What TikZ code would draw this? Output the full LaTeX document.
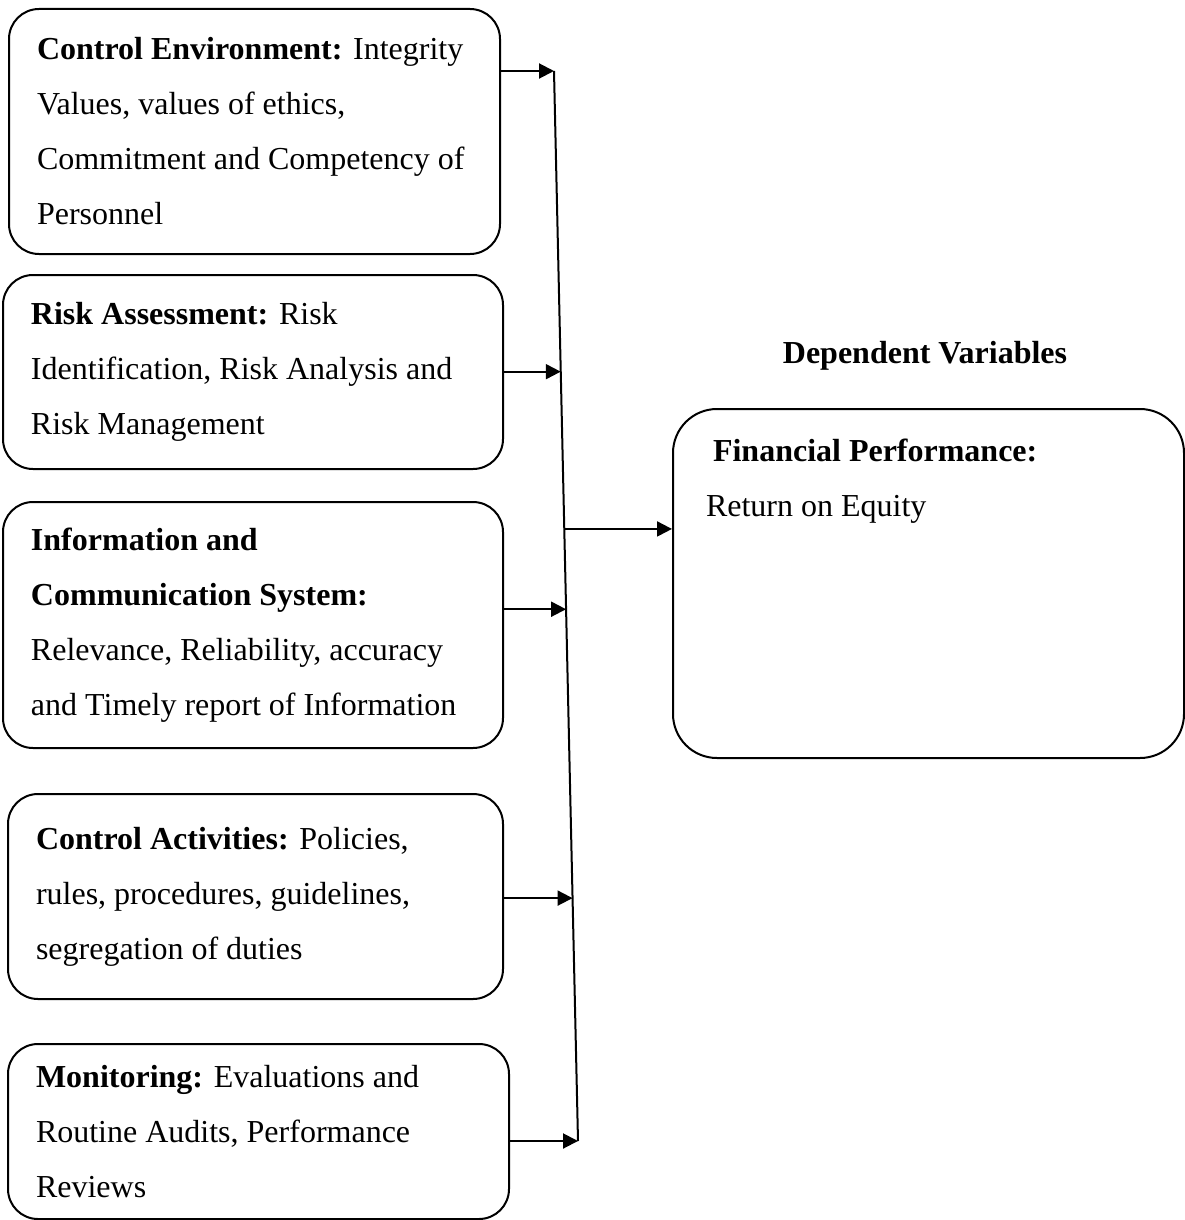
\documentclass[tikz,border=0pt]{standalone}
\usepackage{fontspec}
\setmainfont{Liberation Serif}
\usepackage{tikz}
\usetikzlibrary{arrows.meta}

\begin{document}
\begin{tikzpicture}[x=0.5pt, y=-0.5pt,
      box/.style={draw, line width=1pt, rounded corners=15pt, anchor=north west,
      align=flush left, inner xsep=14pt, inner ysep=4pt,
      font=\fontsize{16}{27.5}\selectfont},
      bus/.style={line width=1pt},
      >={Triangle[length=7.5pt,width=7.5pt]}]
    \useasboundingbox (0,0) rectangle (1184,1220);
    \node[box, text width=217.5pt, minimum height=122.5pt] (env) at (8,8)
      {\textbf{Control Environment:} Integrity\\ Values, values of ethics,\\
       Commitment and Competency of\\ Personnel};
    \node[box, text width=222pt, minimum height=97pt] (risk) at (2,274)
      {\textbf{Risk Assessment:} Risk\\ Identification, Risk Analysis and\\
       Risk Management};
    \node[box, text width=222pt, minimum height=123pt] (info) at (2,501)
      {\textbf{Information and}\\ \textbf{Communication System:}\\
       Relevance, Reliability, accuracy\\ and Timely report of Information};
    \node[box, text width=219.5pt, minimum height=102.5pt] (act) at (7,793)
      {\textbf{Control Activities:} Policies,\\ rules, procedures, guidelines,\\
       segregation of duties};
    \node[box, text width=222.5pt, minimum height=87.5pt] (mon) at (7,1043)
      {\textbf{Monitoring:} Evaluations and\\ Routine Audits, Performance\\
       Reviews};
    \node[font=\fontsize{16}{27.5}\selectfont\bfseries, anchor=base] (dep) at (925,363)
      {Dependent Variables};
    \node[box, rounded corners=22pt, inner xsep=16.5pt] (perf) at (672,408)
      {\parbox[t][166.5pt][t]{222.5pt}{\vspace*{11.1pt}%
       \hspace*{3.5pt}\textbf{Financial Performance:}\\ Return on Equity}};
    % collecting line
    \coordinate (top) at (554,71);
    \coordinate (bot) at (578,1141);
    \draw[bus] (top) -- (bot)
      coordinate[pos=0.281] (b2)
      coordinate[pos=0.428] (bout)
      coordinate[pos=0.503] (b3)
      coordinate[pos=0.773] (b4);
    \draw[->,bus] (env.east |- top) -- (top);
    \draw[->,bus] (risk.east |- b2) -- (b2);
    \draw[->,bus] (info.east |- b3) -- (b3);
    \draw[->,bus] (act.east |- b4) -- (b4);
    \draw[->,bus] (mon.east |- bot) -- (bot);
    \draw[->,bus] (bout) -- (bout -| perf.west);
  \end{tikzpicture}
\end{document}
